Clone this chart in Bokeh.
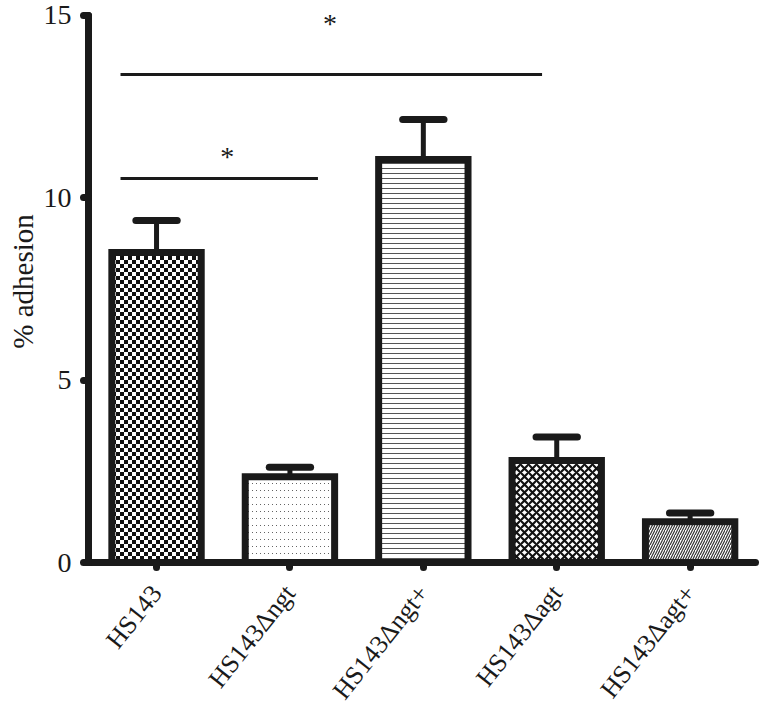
import math, zlib, struct, base64
from bokeh.plotting import figure
from bokeh.models import ColumnDataSource, FixedTicker, Range1d, ImageURLTexture
from bokeh.core.properties import value, field
from bokeh.embed import file_html
from bokeh.resources import INLINE

# ---- data ----
strains = ["HS143", "HS143\u0394ngt", "HS143\u0394ngt+", "HS143\u0394agt", "HS143\u0394agt+"]
adhesion_mean = [8.5, 2.35, 11.05, 2.8, 1.12]
adhesion_upper = [9.38, 2.61, 12.15, 3.44, 1.36]
y_ticks = [0, 5, 10, 15]

# significance brackets (x in category index units)
sig_start = [-0.27, -0.27]
sig_end = [1.21, 2.89]
sig_level = [10.53, 13.38]
sig_mark = ["*", "*"]
sig_mark_x = [0.53, 1.30]
sig_mark_y = [11.13, 14.78]

# ---- styles ----
INK = "#1a1a1a"
FONT = "Liberation Serif"


def png_data_url(w, h, pixel):
    rows = []
    for yy in range(h):
        row = bytearray([0])
        for xx in range(w):
            row.extend(pixel(xx, yy))
        rows.append(bytes(row))
    raw = b"".join(rows)

    def chunk(t, d):
        return struct.pack(">I", len(d)) + t + d + struct.pack(">I", zlib.crc32(t + d) & 0xffffffff)

    png = (b"\x89PNG\r\n\x1a\n"
           + chunk(b"IHDR", struct.pack(">IIBBBBB", w, h, 8, 6, 0, 0, 0))
           + chunk(b"IDAT", zlib.compress(raw))
           + chunk(b"IEND", b""))
    return "data:image/png;base64," + base64.b64encode(png).decode()


CELL = 4
checker = ImageURLTexture(url=png_data_url(
    2 * CELL, 2 * CELL,
    lambda x, y: (17, 17, 17, 255) if ((x // CELL) + (y // CELL)) % 2 == 0 else (255, 255, 255, 255)))
sparse_dots = ImageURLTexture(url=png_data_url(
    4, 7,
    lambda x, y: (100, 100, 100, 255) if (x == 0 and y == 0) else (255, 255, 255, 255)))

patterns = ["checker", "sparse_dots", "-", "x", "/"]
hatch_scales = [8, 8, 5, 8, 5]
hatch_weights = [1, 1, 1, 2.2, 1.2]
hatch_colors = ["#111111", "#666666", "#555555", "#111111", "#333333"]

xs = list(range(len(strains)))
src = ColumnDataSource(dict(
    x=xs, top=adhesion_mean, upper=adhesion_upper,
    pattern=patterns, hscale=hatch_scales, hweight=hatch_weights, hcolor=hatch_colors,
))

p = figure(frame_width=667, frame_height=562,
           x_range=Range1d(-0.51, 4.49), y_range=Range1d(0, 15.41),
           output_backend="svg", toolbar_location=None,
           min_border_left=88, min_border_top=0, min_border_right=6, min_border_bottom=10)
p.xgrid.visible = False
p.ygrid.visible = False
p.outline_line_color = None
p.background_fill_color = "white"
p.border_fill_color = "white"

p.vbar(x="x", top="top", bottom=0, width=0.67, source=src,
       fill_color="white", line_color=INK, line_width=7, line_join="miter",
       hatch_pattern=field("pattern"), hatch_scale=field("hscale"),
       hatch_weight=field("hweight"), hatch_color=field("hcolor"),
       hatch_extra={"checker": checker, "sparse_dots": sparse_dots})

# error bars (upper only)
p.segment(x0="x", y0="top", x1="x", y1="upper", source=src, line_color=INK, line_width=5)
src_caps = ColumnDataSource(dict(
    x0=[x - 0.155 for x in xs], x1=[x + 0.155 for x in xs], y=adhesion_upper))
p.segment(x0="x0", y0="y", x1="x1", y1="y", source=src_caps,
          line_color=INK, line_width=7, line_cap="round")

# significance lines and stars
p.segment(x0=sig_start, y0=sig_level, x1=sig_end, y1=sig_level, line_color=INK, line_width=3)
p.text(x=sig_mark_x, y=sig_mark_y, text=sig_mark, text_align="center",
       text_baseline="alphabetic", text_font=value(FONT), text_font_size="28px",
       text_color=INK)

# axes
for ax in (p.xaxis[0], p.yaxis[0]):
    ax.axis_line_width = 7
    ax.axis_line_color = INK
    ax.axis_line_cap = "round"
    ax.major_tick_line_width = 7
    ax.major_tick_line_color = INK
    ax.major_tick_line_cap = "round"
    ax.major_tick_in = 0
    ax.major_tick_out = 5
    ax.minor_tick_line_color = None
    ax.major_label_text_font = FONT
    ax.major_label_text_color = INK

p.yaxis.ticker = FixedTicker(ticks=y_ticks)
p.yaxis.bounds = (0, 15)
p.yaxis.major_label_text_font_size = "28px"
p.yaxis.major_label_standoff = 12
p.yaxis.axis_label = "% adhesion"
p.yaxis.axis_label_text_font = FONT
p.yaxis.axis_label_text_font_style = "normal"
p.yaxis.axis_label_text_font_size = "29px"
p.yaxis.axis_label_text_color = INK
p.yaxis.axis_label_standoff = 2

p.xaxis.ticker = FixedTicker(ticks=xs)
p.xaxis.major_label_overrides = {i: s for i, s in zip(xs, strains)}
p.xaxis.major_label_orientation = 0.9
p.xaxis.major_label_text_font_size = "26px"
p.xaxis.major_label_standoff = 21

open("out.html", "w").write(file_html(p, INLINE))
